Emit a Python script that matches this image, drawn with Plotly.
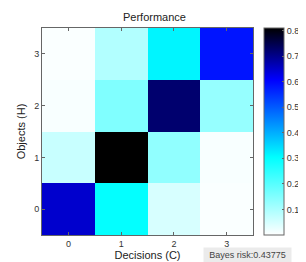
import plotly.graph_objects as go

decisions = [0, 1, 2, 3]
objects = [0, 1, 2, 3]
# rows = objects (H), columns = decisions (C)
row_h0 = [0.647, 0.300, 0.048, 0.006]
row_h1 = [0.066, 0.810, 0.131, 0.008]
row_h2 = [0.008, 0.151, 0.723, 0.125]
row_h3 = [0.006, 0.092, 0.316, 0.584]
cbar_ticks = [0.1, 0.2, 0.3, 0.4, 0.5, 0.6, 0.7, 0.8]
bayes_risk = "Bayes risk:0.43775"

z = [row_h0, row_h1, row_h2, row_h3]
zmax = max(max(r) for r in z)

W, H = 306, 262
L, R, T, B = 33, 46, 19.5, 30
pw = W - L - R
ph = H - T - B

font = "Liberation Sans, Arial, sans-serif"
tc = "#333333"

fig = go.Figure(go.Heatmap(
    x=decisions, y=objects, z=z,
    zmin=0, zmax=zmax,
    colorscale=[[0, "rgb(255,255,255)"], [0.375, "rgb(0,255,255)"],
                [0.75, "rgb(0,0,255)"], [1, "rgb(0,0,0)"]],
    colorbar=dict(
        x=(272 - L) / pw, xanchor="left", xpad=0, ypad=0,
        y=0.5, yanchor="middle", len=1, lenmode="fraction",
        thickness=20, thicknessmode="pixels",
        outlinewidth=1, outlinecolor="#666666",
        tickvals=cbar_ticks, ticks="inside", ticklen=2, tickcolor="#666666",
        tickfont=dict(size=9, color=tc, family=font),
    ),
    hoverinfo="skip",
))

fig.update_layout(
    width=W, height=H,
    margin=dict(l=L, r=R, t=T, b=B, pad=0),
    paper_bgcolor="white", plot_bgcolor="white",
    font=dict(family=font, color=tc, size=9),
    title=dict(text="Performance", x=(L + pw / 2) / W, xanchor="center",
               y=1 - 9 / H, yanchor="middle",
               font=dict(size=11, color="#222222", family=font)),
    xaxis=dict(
        tickvals=decisions, range=[-0.5, 3.5], showgrid=False, zeroline=False,
        showline=True, linecolor="#666666", linewidth=1, mirror="ticks",
        ticks="inside", ticklen=3, tickcolor="#666666",
        tickfont=dict(size=9, color=tc, family=font),
        title=dict(text="Decisions (C)", standoff=2,
                   font=dict(size=11, color="#222222", family=font)),
    ),
    yaxis=dict(
        tickvals=objects, range=[-0.5, 3.5], showgrid=False, zeroline=False,
        showline=True, linecolor="#666666", linewidth=1, mirror="ticks",
        ticks="inside", ticklen=3, tickcolor="#666666",
        tickfont=dict(size=9, color=tc, family=font),
        title=dict(text="Objects (H)", standoff=6,
                   font=dict(size=11, color="#222222", family=font)),
    ),
    annotations=[dict(
        text=bayes_risk, xref="paper", yref="paper",
        x=(206 - L) / pw, xanchor="left",
        y=-(244 - (T + ph)) / ph, yanchor="top",
        showarrow=False, bgcolor="#ebebeb", width=85, height=12,
        borderpad=1, font=dict(size=9, color="#444444", family=font),
    )],
)

fig.write_html("out.html")
